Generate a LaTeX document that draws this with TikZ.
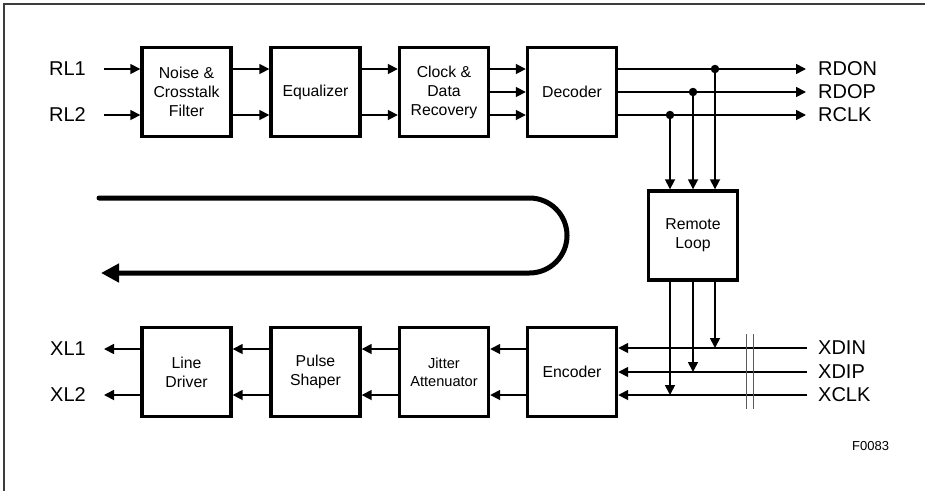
\documentclass[tikz,border=0pt]{standalone}
\usepackage{fontspec}
\setmainfont{Liberation Sans}
\usetikzlibrary{arrows.meta}
\definecolor{framegray}{RGB}{60,60,60}
\definecolor{bargray}{RGB}{90,90,90}

\begin{document}
\begin{tikzpicture}[x=1pt, y=-1pt,
  block/.style={draw, line width=3.4pt, minimum width=89pt, minimum height=89pt,
    align=center, font=\fontsize{15.8}{19}\selectfont},
  sig/.style={line width=1.7pt, -{Triangle[length=10pt,width=10pt]}},
  pin/.style={inner sep=0pt, font=\fontsize{20}{24}\selectfont},
  tap/.style={circle, fill, inner sep=0pt, minimum size=8.5pt}
]
\useasboundingbox (0,0) rectangle (925,491);
\draw[framegray, line width=1.5pt] (4,491) -- (4,4) -- (925,4);

% receive path
\node[block] (noise) at (186.5,92) {Noise \&\\Crosstalk\\Filter};
\node[block] (eq) at (315.5,92) {Equalizer};
\node[block] (cdr) at (444,92) {Clock \&\\Data\\Recovery};
\node[block] (dec) at (572,92) {Decoder};

% transmit path
\node[block] (drv) at (186.5,372) {Line\\Driver};
\node[block] (shp) at (315.5,372) {Pulse\\Shaper};
\node[block, font=\fontsize{14.6}{18}\selectfont] (jit) at (444,372) {Jitter\\Attenuator};
\node[block] (enc) at (572,372) {Encoder};

\node[block] (rloop) at (693,235.5) {Remote\\Loop};

% pins
\node[pin, anchor=east] (rl1) at (86,69) {RL1};
\node[pin, anchor=east] (rl2) at (86,115) {RL2};
\node[pin, anchor=east] (xl1) at (86,349) {XL1};
\node[pin, anchor=east] (xl2) at (86,395) {XL2};
\node[pin, anchor=west] (rdon) at (818,69) {RDON};
\node[pin, anchor=west] (rdop) at (818,92) {RDOP};
\node[pin, anchor=west] (rclk) at (818,115) {RCLK};
\node[pin, anchor=west] (xdin) at (818,348) {XDIN};
\node[pin, anchor=west] (xdip) at (818,372) {XDIP};
\node[pin, anchor=west] (xclk) at (818,395) {XCLK};
\node[anchor=west, inner sep=0pt, font=\fontsize{13}{15}\selectfont] (fig) at (852,446) {F0083};

% receive connections
\draw[sig] ([xshift=18pt]rl1.east) -- ([yshift=23pt]noise.west);
\draw[sig] ([xshift=18pt]rl2.east) -- ([yshift=-23pt]noise.west);
\draw[sig] ([yshift=23pt]noise.east) -- ([yshift=23pt]eq.west);
\draw[sig] ([yshift=-23pt]noise.east) -- ([yshift=-23pt]eq.west);
\draw[sig] ([yshift=23pt]eq.east) -- ([yshift=23pt]cdr.west);
\draw[sig] ([yshift=-23pt]eq.east) -- ([yshift=-23pt]cdr.west);
\draw[sig] ([yshift=23pt]cdr.east) -- ([yshift=23pt]dec.west);
\draw[sig] (cdr.east) -- (dec.west);
\draw[sig] ([yshift=-23pt]cdr.east) -- ([yshift=-23pt]dec.west);
\draw[sig] ([yshift=23pt]dec.east) -- ([xshift=-12pt]rdon.west);
\draw[sig] (dec.east) -- ([xshift=-12pt]rdop.west);
\draw[sig] ([yshift=-23pt]dec.east) -- ([xshift=-12pt]rclk.west);

% loopback taps
\node[tap] (tn) at (715,69) {};
\node[tap] (tp) at (693,92) {};
\node[tap] (tc) at (670,115) {};
\draw[sig] (tn.center) -- (tn |- rloop.north);
\draw[sig] (tp.center) -- (tp |- rloop.north);
\draw[sig] (tc.center) -- (tc |- rloop.north);
\draw[sig] (tn |- rloop.south) -- (tn |- xdin);
\draw[sig] (tp |- rloop.south) -- (tp |- xdip);
\draw[sig] (tc |- rloop.south) -- (tc |- xclk);

% transmit connections
\draw[sig] ([xshift=-11pt]xdin.west) -- (xdin -| enc.east);
\draw[sig] ([xshift=-11pt]xdip.west) -- (xdip -| enc.east);
\draw[sig] ([xshift=-11pt]xclk.west) -- (xclk -| enc.east);
\draw[bargray, line width=0.9pt] (746,334) -- (746,409);
\draw[bargray, line width=0.9pt] (753,334) -- (753,409);
\draw[sig] ([yshift=23pt]enc.west) -- ([yshift=23pt]jit.east);
\draw[sig] ([yshift=-23pt]enc.west) -- ([yshift=-23pt]jit.east);
\draw[sig] ([yshift=23pt]jit.west) -- ([yshift=23pt]shp.east);
\draw[sig] ([yshift=-23pt]jit.west) -- ([yshift=-23pt]shp.east);
\draw[sig] ([yshift=23pt]shp.west) -- ([yshift=23pt]drv.east);
\draw[sig] ([yshift=-23pt]shp.west) -- ([yshift=-23pt]drv.east);
\draw[sig] ([yshift=23pt]drv.west) -- ([xshift=18pt]xl1.east);
\draw[sig] ([yshift=-23pt]drv.west) -- ([xshift=18pt]xl2.east);

% loop symbol
\draw[line width=5pt, line cap=round, rounded corners=37.5pt,
  -{Triangle[length=18pt,width=18pt]}]
  (99,198) -- (567,198) -- (567,273) -- (101,273);
\end{tikzpicture}
\end{document}
